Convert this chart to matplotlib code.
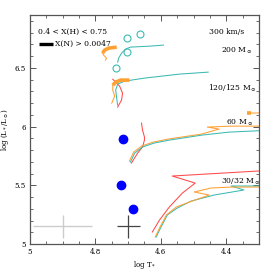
import numpy as np
import matplotlib
matplotlib.use('Agg')
import matplotlib.pyplot as plt

plt.rcParams['font.family'] = ['DejaVu Serif']
plt.rcParams['mathtext.fontset'] = 'dejavuserif'

cyan = '#3cbab2'
orange = '#ffa033'
red = '#ff4a4a'

# 200 Msun
t200_c = [4.732, 4.729, 4.720, 4.708, 4.693, 4.665, 4.635, 4.592]
l200_c = [6.549, 6.583, 6.626, 6.660, 6.677, 6.681, 6.685, 6.694]
t200_o = [4.769, 4.766, 4.775, 4.778]
l200_o = [6.566, 6.583, 6.609, 6.626]
t200_n = [4.778, 4.772, 4.760, 4.735]
l200_n = [6.626, 6.651, 6.668, 6.677]

# 120/125 Msun
t120_c = [4.732, 4.735, 4.738, 4.732, 4.711, 4.650, 4.543, 4.455]
l120_c = [6.183, 6.243, 6.311, 6.362, 6.387, 6.413, 6.447, 6.464]
t120_o = [4.750, 4.741, 4.747, 4.747]
l120_o = [6.200, 6.260, 6.311, 6.353]
t120_n = [4.747, 4.738, 4.723, 4.696]
l120_n = [6.353, 6.379, 6.396, 6.396]
t120_r = [4.732, 4.720, 4.717, 4.726, 4.747]
l120_r = [6.166, 6.226, 6.285, 6.345, 6.404]

# 60 Msun
t60_r = [4.690, 4.671, 4.656, 4.650, 4.650, 4.656, 4.659]
l60_r = [5.689, 5.774, 5.826, 5.885, 5.911, 5.970, 6.030]
t60_c = [4.693, 4.680, 4.656, 4.620, 4.574, 4.473, 4.391, 4.321, 4.290]
l60_c = [5.698, 5.774, 5.826, 5.860, 5.885, 5.928, 5.953, 5.962, 5.966]
t60_o = [4.696, 4.683, 4.659, 4.623, 4.577, 4.476, 4.422, 4.458, 4.382, 4.290]
l60_o = [5.706, 5.783, 5.834, 5.868, 5.894, 5.936, 5.979, 5.996, 6.004, 6.004]
t60_o2 = [4.324, 4.290]
l60_o2 = [6.115, 6.117]
t60_n = [4.338, 4.324]
l60_n = [6.115, 6.115]

# 30/32 Msun
t30_r = [4.626, 4.604, 4.574, 4.534, 4.495, 4.565, 4.306, 4.290]
l30_r = [5.102, 5.204, 5.315, 5.434, 5.519, 5.579, 5.621, 5.622]
t30_o = [4.617, 4.604, 4.583, 4.553, 4.513, 4.452, 4.498, 4.446, 4.385, 4.290]
l30_o = [5.060, 5.136, 5.247, 5.315, 5.357, 5.417, 5.443, 5.477, 5.485, 5.485]
t30_c = [4.614, 4.601, 4.580, 4.550, 4.507, 4.437, 4.346, 4.385, 4.290]
l30_c = [5.060, 5.136, 5.247, 5.306, 5.366, 5.417, 5.460, 5.494, 5.494]

# observed stars
t_open = [4.702, 4.665, 4.702, 4.738]
l_open = [6.753, 6.787, 6.634, 6.498]
t_blue = [4.717, 4.723, 4.684]
l_blue = [5.894, 5.502, 5.298]

fig = plt.figure(figsize=(2.74, 2.74), dpi=100)
ax = fig.add_axes([0.1095, 0.1095, 0.8355, 0.8355])

lw = 0.75
ax.plot(t200_c, l200_c, color=cyan, lw=lw)
ax.plot(t200_o, l200_o, color=orange, lw=lw)
ax.plot(t200_n, l200_n, color=orange, lw=2.6, solid_capstyle='butt')

ax.plot(t120_r, l120_r, color=red, lw=lw)
ax.plot(t120_c, l120_c, color=cyan, lw=lw)
ax.plot(t120_o, l120_o, color=orange, lw=lw)
ax.plot(t120_n, l120_n, color=orange, lw=2.6, solid_capstyle='butt')

ax.plot(t60_r, l60_r, color=red, lw=lw)
ax.plot(t60_o, l60_o, color=orange, lw=lw)
ax.plot(t60_c, l60_c, color=cyan, lw=lw)
ax.plot(t60_o2, l60_o2, color=orange, lw=lw)
ax.plot(t60_n, l60_n, color=orange, lw=2.6, solid_capstyle='butt')

ax.plot(t30_r, l30_r, color=red, lw=lw)
ax.plot(t30_c, l30_c, color=cyan, lw=lw)
ax.plot(t30_o, l30_o, color=orange, lw=lw)

ax.plot(t_open, l_open, 'o', ms=5, mfc='none', mec=cyan, mew=0.8)
ax.plot(t_blue, l_blue, 'o', ms=6, color='blue')

ax.errorbar([4.90], [5.15], xerr=0.09, yerr=0.1, color='#cccccc', lw=1.0, capsize=0)
ax.errorbar([4.70], [5.15], xerr=0.035, yerr=0.1, color='#444444', lw=0.9, capsize=0)

ax.set_xlim(5.0, 4.3)
ax.set_ylim(5.0, 6.95)
ax.set_xticks([5.0, 4.8, 4.6, 4.4])
ax.set_xticklabels(['5', '4.8', '4.6', '4.4'])
ax.set_yticks([5.0, 5.5, 6.0, 6.5])
ax.set_yticklabels(['5', '5.5', '6', '6.5'])
ax.set_xticks(np.arange(4.3, 5.0, 0.05), minor=True)
ax.set_yticks(np.arange(5.0, 6.95, 0.1), minor=True)
ax.tick_params(which='both', direction='in', top=True, right=True, color='#555555', labelsize=5, pad=3)
ax.tick_params(which='major', length=4, width=0.7)
ax.tick_params(which='minor', length=2, width=0.6)
for s in ax.spines.values():
    s.set_color('#555555')
    s.set_linewidth(0.9)

ax.set_xlabel(r'log T$_*$', fontsize=5, labelpad=2)
ax.set_ylabel(r'log (L$_*$/L$_\odot$)', fontsize=5)
ax.yaxis.set_label_coords(-0.085, 0.5)

fs = 5.5
ax.text(0.035, 0.925, '0.4 < X(H) < 0.75', transform=ax.transAxes, fontsize=fs, va='center')
ax.plot([0.04, 0.10], [0.875, 0.875], transform=ax.transAxes, color='black', lw=2.4, solid_capstyle='butt')
ax.text(0.11, 0.875, 'X(N) > 0.0047', transform=ax.transAxes, fontsize=fs, va='center')
ax.text(0.935, 0.925, '300 km/s', transform=ax.transAxes, fontsize=fs, ha='right', va='center')
ax.text(0.975, 0.845, r'200 M$_\odot$', transform=ax.transAxes, fontsize=fs, ha='right', va='center')
ax.text(0.99, 0.68, r'120/125 M$_\odot$', transform=ax.transAxes, fontsize=fs, ha='right', va='center')
ax.text(0.975, 0.53, r'60 M$_\odot$', transform=ax.transAxes, fontsize=fs, ha='right', va='center')
ax.text(1.005, 0.27, r'30/32 M$_\odot$', transform=ax.transAxes, fontsize=fs, ha='right', va='center')

fig.savefig('out.png', dpi=100)
